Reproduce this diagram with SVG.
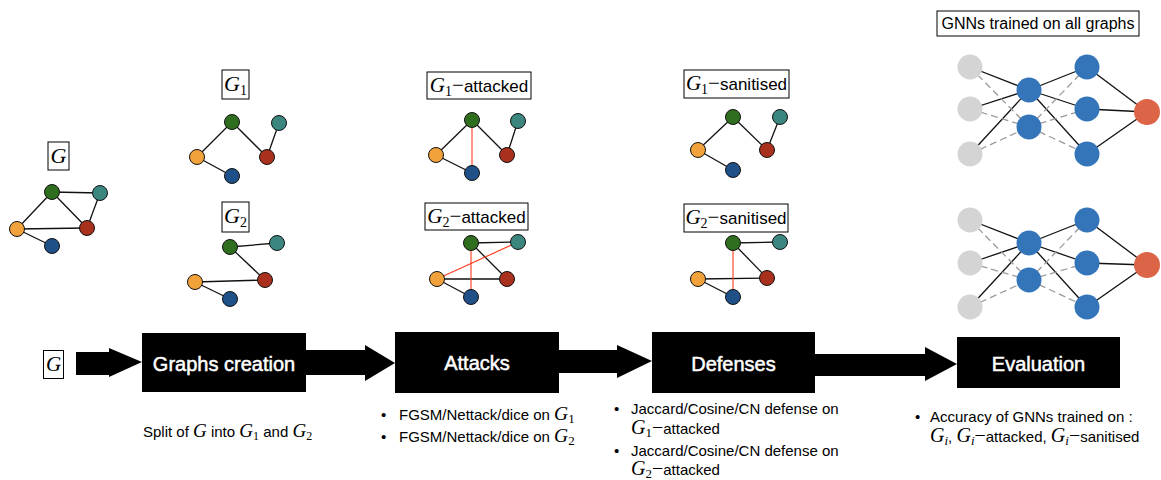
<svg xmlns="http://www.w3.org/2000/svg" width="1161" height="480" viewBox="0 0 1161 480">
<style>
.n{stroke:#111;stroke-width:1}
.g{fill:#2f6e1f}.t{fill:#3b8780}.o{fill:#f2a23a}.r{fill:#a8301d}.b{fill:#1f5188}
.e{stroke:#111;stroke-width:1.3;fill:none}
.ea{stroke:#ff3a1a;stroke-width:1.1;fill:none}
.lb{fill:#fff;stroke:#000;stroke-width:1}
.m{font-family:"Liberation Serif",serif;font-style:italic}
.u{font-family:"Liberation Serif",serif;font-style:normal}
.s{font-family:"Liberation Sans",Arial,sans-serif}
.gn{fill:#d4d4d4}.bn{fill:#3375b8}.on{fill:#dc6548}
.ns{stroke:#111;stroke-width:1.3}
.nd{stroke:#9a9a9a;stroke-width:1.3;stroke-dasharray:7 4}
.box{fill:#000}
.bt{fill:#fff;stroke:#fff;stroke-width:0.5;font-family:"Liberation Sans",Arial,sans-serif;font-size:20px;text-anchor:middle}
.tx{font-family:"Liberation Sans",Arial,sans-serif;font-size:15px;fill:#000}
</style>

<!-- Graph G -->
<g id="graph-G">
<rect class="lb" x="48" y="142" width="21" height="28"/>
<text x="58.5" y="163" class="m" font-size="22" text-anchor="middle">G</text>
<line class="e" x1="52" y1="192" x2="100" y2="193"/>
<line class="e" x1="52" y1="192" x2="17" y2="229"/>
<line class="e" x1="52" y1="192" x2="87" y2="228"/>
<line class="e" x1="100" y1="193" x2="87" y2="228"/>
<line class="e" x1="17" y1="229" x2="87" y2="228"/>
<line class="e" x1="17" y1="229" x2="52" y2="246"/>
<circle class="n g" cx="52" cy="192" r="7.5"/>
<circle class="n t" cx="100" cy="193" r="7.5"/>
<circle class="n o" cx="17" cy="229" r="7.5"/>
<circle class="n r" cx="87" cy="228" r="7.5"/>
<circle class="n b" cx="52" cy="246" r="7.5"/>
</g>

<!-- G1 -->
<g id="graph-G1">
<rect class="lb" x="222" y="70" width="27" height="29"/>
<text x="235.5" y="91" text-anchor="middle"><tspan class="m" font-size="22">G</tspan><tspan class="u" font-size="14" dy="4">1</tspan></text>
<line class="e" x1="232" y1="122" x2="197" y2="157"/>
<line class="e" x1="232" y1="122" x2="267" y2="157"/>
<line class="e" x1="279" y1="123" x2="267" y2="157"/>
<line class="e" x1="197" y1="157" x2="232" y2="176"/>
<circle class="n g" cx="232" cy="122" r="7.5"/>
<circle class="n t" cx="279" cy="123" r="7.5"/>
<circle class="n o" cx="197" cy="157" r="7.5"/>
<circle class="n r" cx="267" cy="157" r="7.5"/>
<circle class="n b" cx="232" cy="176" r="7.5"/>
</g>

<!-- G2 -->
<g id="graph-G2">
<rect class="lb" x="222" y="202" width="27" height="30"/>
<text x="235.5" y="223" text-anchor="middle"><tspan class="m" font-size="22">G</tspan><tspan class="u" font-size="14" dy="4">2</tspan></text>
<line class="e" x1="230" y1="247" x2="277" y2="243"/>
<line class="e" x1="230" y1="247" x2="265" y2="280"/>
<line class="e" x1="195" y1="282" x2="265" y2="280"/>
<line class="e" x1="195" y1="282" x2="230" y2="299"/>
<circle class="n g" cx="230" cy="247" r="7.5"/>
<circle class="n t" cx="277" cy="243" r="7.5"/>
<circle class="n o" cx="195" cy="282" r="7.5"/>
<circle class="n r" cx="265" cy="280" r="7.5"/>
<circle class="n b" cx="230" cy="299" r="7.5"/>
</g>

<!-- G1 attacked -->
<g id="graph-G1-attacked">
<rect class="lb" x="427" y="72" width="104" height="27"/>
<text x="479" y="92" text-anchor="middle"><tspan class="m" font-size="21">G</tspan><tspan class="u" font-size="14" dy="4">1</tspan><tspan class="u" font-size="21" dy="-4">−</tspan><tspan class="s" font-size="17">attacked</tspan></text>
<line class="e" x1="472" y1="120" x2="436" y2="155"/>
<line class="e" x1="472" y1="120" x2="507" y2="155"/>
<line class="e" x1="518" y1="121" x2="507" y2="155"/>
<line class="e" x1="436" y1="155" x2="472" y2="173"/>
<line class="ea" x1="472" y1="120" x2="472" y2="173"/>
<circle class="n g" cx="472" cy="120" r="7.5"/>
<circle class="n t" cx="518" cy="121" r="7.5"/>
<circle class="n o" cx="436" cy="155" r="7.5"/>
<circle class="n r" cx="507" cy="155" r="7.5"/>
<circle class="n b" cx="472" cy="173" r="7.5"/>
</g>

<!-- G2 attacked -->
<g id="graph-G2-attacked">
<rect class="lb" x="425" y="203" width="103" height="27"/>
<text x="476.5" y="223" text-anchor="middle"><tspan class="m" font-size="21">G</tspan><tspan class="u" font-size="14" dy="4">2</tspan><tspan class="u" font-size="21" dy="-4">−</tspan><tspan class="s" font-size="17">attacked</tspan></text>
<line class="e" x1="471" y1="243" x2="518" y2="242"/>
<line class="e" x1="471" y1="243" x2="507" y2="279"/>
<line class="e" x1="437" y1="279" x2="507" y2="279"/>
<line class="e" x1="437" y1="279" x2="471" y2="297"/>
<line class="ea" x1="471" y1="243" x2="471" y2="297"/>
<line class="ea" x1="437" y1="279" x2="518" y2="242"/>
<circle class="n g" cx="471" cy="243" r="7.5"/>
<circle class="n t" cx="518" cy="242" r="7.5"/>
<circle class="n o" cx="437" cy="279" r="7.5"/>
<circle class="n r" cx="507" cy="279" r="7.5"/>
<circle class="n b" cx="471" cy="297" r="7.5"/>
</g>

<!-- G1 sanitised -->
<g id="graph-G1-sanitised">
<rect class="lb" x="684" y="70" width="105" height="28"/>
<text x="736.5" y="90" text-anchor="middle"><tspan class="m" font-size="21">G</tspan><tspan class="u" font-size="14" dy="4">1</tspan><tspan class="u" font-size="21" dy="-4">−</tspan><tspan class="s" font-size="17">sanitised</tspan></text>
<line class="e" x1="733" y1="117" x2="698" y2="150"/>
<line class="e" x1="733" y1="117" x2="767" y2="150"/>
<line class="e" x1="780" y1="117" x2="767" y2="150"/>
<line class="e" x1="698" y1="150" x2="733" y2="170"/>
<circle class="n g" cx="733" cy="117" r="7.5"/>
<circle class="n t" cx="780" cy="117" r="7.5"/>
<circle class="n o" cx="698" cy="150" r="7.5"/>
<circle class="n r" cx="767" cy="150" r="7.5"/>
<circle class="n b" cx="733" cy="170" r="7.5"/>
</g>

<!-- G2 sanitised -->
<g id="graph-G2-sanitised">
<rect class="lb" x="684" y="204" width="104" height="28"/>
<text x="736" y="224" text-anchor="middle"><tspan class="m" font-size="21">G</tspan><tspan class="u" font-size="14" dy="4">2</tspan><tspan class="u" font-size="21" dy="-4">−</tspan><tspan class="s" font-size="17">sanitised</tspan></text>
<line class="e" x1="733" y1="243" x2="780" y2="242"/>
<line class="e" x1="733" y1="243" x2="767" y2="278"/>
<line class="e" x1="698" y1="279" x2="767" y2="278"/>
<line class="e" x1="698" y1="279" x2="733" y2="297"/>
<line class="ea" x1="733" y1="243" x2="733" y2="297"/>
<circle class="n g" cx="733" cy="243" r="7.5"/>
<circle class="n t" cx="780" cy="242" r="7.5"/>
<circle class="n o" cx="698" cy="279" r="7.5"/>
<circle class="n r" cx="767" cy="278" r="7.5"/>
<circle class="n b" cx="733" cy="297" r="7.5"/>
</g>

<!-- GNN label -->
<g id="gnn-label">
<rect class="lb" x="937" y="11" width="202" height="25"/>
<text x="1038" y="29" class="s" font-size="16" text-anchor="middle">GNNs trained on all graphs</text>
</g>

<!-- GNN top -->
<g id="gnn-top">
<line class="ns" x1="970" y1="67" x2="1029" y2="90"/>
<line class="ns" x1="970" y1="109" x2="1029" y2="90"/>
<line class="ns" x1="970" y1="154" x2="1029" y2="90"/>
<line class="nd" x1="970" y1="67" x2="1029" y2="127"/>
<line class="nd" x1="970" y1="109" x2="1029" y2="127"/>
<line class="nd" x1="970" y1="154" x2="1029" y2="127"/>
<line class="ns" x1="1029" y1="90" x2="1087" y2="67"/>
<line class="ns" x1="1029" y1="90" x2="1087" y2="109"/>
<line class="ns" x1="1029" y1="90" x2="1087" y2="154"/>
<line class="nd" x1="1029" y1="127" x2="1087" y2="67"/>
<line class="nd" x1="1029" y1="127" x2="1087" y2="109"/>
<line class="nd" x1="1029" y1="127" x2="1087" y2="154"/>
<line class="ns" x1="1087" y1="67" x2="1147" y2="112"/>
<line class="ns" x1="1087" y1="109" x2="1147" y2="112"/>
<line class="ns" x1="1087" y1="154" x2="1147" y2="112"/>
<circle class="gn" cx="970" cy="67" r="12.5"/>
<circle class="gn" cx="970" cy="109" r="12.5"/>
<circle class="gn" cx="970" cy="154" r="12.5"/>
<circle class="bn" cx="1029" cy="90" r="12.5"/>
<circle class="bn" cx="1029" cy="127" r="12.5"/>
<circle class="bn" cx="1087" cy="67" r="12.5"/>
<circle class="bn" cx="1087" cy="109" r="12.5"/>
<circle class="bn" cx="1087" cy="154" r="12.5"/>
<circle class="on" cx="1147" cy="112" r="13"/>
</g>

<!-- GNN bottom -->
<g id="gnn-bottom">
<line class="ns" x1="970" y1="220" x2="1029" y2="243"/>
<line class="ns" x1="970" y1="263" x2="1029" y2="243"/>
<line class="ns" x1="970" y1="307" x2="1029" y2="243"/>
<line class="nd" x1="970" y1="220" x2="1029" y2="280"/>
<line class="nd" x1="970" y1="263" x2="1029" y2="280"/>
<line class="nd" x1="970" y1="307" x2="1029" y2="280"/>
<line class="ns" x1="1029" y1="243" x2="1087" y2="220"/>
<line class="ns" x1="1029" y1="243" x2="1087" y2="263"/>
<line class="ns" x1="1029" y1="243" x2="1087" y2="307"/>
<line class="nd" x1="1029" y1="280" x2="1087" y2="220"/>
<line class="nd" x1="1029" y1="280" x2="1087" y2="263"/>
<line class="nd" x1="1029" y1="280" x2="1087" y2="307"/>
<line class="ns" x1="1087" y1="220" x2="1147" y2="265"/>
<line class="ns" x1="1087" y1="263" x2="1147" y2="265"/>
<line class="ns" x1="1087" y1="307" x2="1147" y2="265"/>
<circle class="gn" cx="970" cy="220" r="12.5"/>
<circle class="gn" cx="970" cy="263" r="12.5"/>
<circle class="gn" cx="970" cy="307" r="12.5"/>
<circle class="bn" cx="1029" cy="243" r="12.5"/>
<circle class="bn" cx="1029" cy="280" r="12.5"/>
<circle class="bn" cx="1087" cy="220" r="12.5"/>
<circle class="bn" cx="1087" cy="263" r="12.5"/>
<circle class="bn" cx="1087" cy="307" r="12.5"/>
<circle class="on" cx="1147" cy="265" r="13"/>
</g>

<!-- pipeline connectors -->
<g id="connectors" fill="#000">
<polygon points="76,352 109,352 109,348 142,362 109,377 109,375 76,375"/>
<polygon points="306,350 365,350 365,345 395,363 365,381 365,375 306,375"/>
<polygon points="559,350 617,350 617,345 652,361 617,378 617,373 559,373"/>
<polygon points="815,354 925,354 925,347 957,364 925,381 925,376 815,376"/>
</g>

<!-- pipeline nodes -->
<g id="input-G">
<rect class="lb" x="43.5" y="350.5" width="20" height="28"/>
<text x="53.5" y="371" class="m" font-size="21" text-anchor="middle">G</text>
</g>
<g id="graphs-creation">
<rect class="box" x="142" y="333" width="164" height="59"/>
<text class="bt" x="224" y="371">Graphs creation</text>
</g>
<g id="attacks">
<rect class="box" x="395" y="332" width="164" height="61"/>
<text class="bt" x="477" y="370">Attacks</text>
</g>
<g id="defenses">
<rect class="box" x="652" y="332" width="163" height="61"/>
<text class="bt" x="733.5" y="371">Defenses</text>
</g>
<g id="evaluation">
<rect class="box" x="957" y="337" width="163" height="51"/>
<text class="bt" x="1038.5" y="371">Evaluation</text>
</g>

<!-- descriptions -->
<g id="desc-creation">
<text class="tx" x="143" y="437">Split of <tspan class="m" font-size="19">G</tspan> into <tspan class="m" font-size="19">G</tspan><tspan class="u" font-size="12" dy="3">1</tspan><tspan dy="-3"> and </tspan><tspan class="m" font-size="19">G</tspan><tspan class="u" font-size="12" dy="3">2</tspan></text>
</g>
<g id="desc-attacks">
<text class="tx" x="381" y="420">•</text>
<text class="tx" x="399" y="420">FGSM/Nettack/dice on <tspan class="m" font-size="19.5">G</tspan><tspan class="u" font-size="13" dy="2.5">1</tspan></text>
<text class="tx" x="381" y="442">•</text>
<text class="tx" x="399" y="442">FGSM/Nettack/dice on <tspan class="m" font-size="19.5">G</tspan><tspan class="u" font-size="13" dy="2.5">2</tspan></text>
</g>
<g id="desc-defenses">
<text class="tx" x="614" y="414">•</text>
<text class="tx" x="631" y="414">Jaccard/Cosine/CN defense on</text>
<text class="tx" x="631" y="434"><tspan class="m" font-size="20">G</tspan><tspan class="u" font-size="13" dy="3">1</tspan><tspan class="u" font-size="20" dy="-3">−</tspan>attacked</text>
<text class="tx" x="614" y="456">•</text>
<text class="tx" x="631" y="456">Jaccard/Cosine/CN defense on</text>
<text class="tx" x="631" y="475"><tspan class="m" font-size="20">G</tspan><tspan class="u" font-size="13" dy="3">2</tspan><tspan class="u" font-size="20" dy="-3">−</tspan>attacked</text>
</g>
<g id="desc-evaluation">
<text class="tx" x="915" y="422">•</text>
<text class="tx" x="930" y="422">Accuracy of GNNs trained on :</text>
<text class="tx" x="930" y="442"><tspan class="m" font-size="20">G</tspan><tspan class="m" font-size="13" dy="3">i</tspan><tspan dy="-3">, </tspan><tspan class="m" font-size="20">G</tspan><tspan class="m" font-size="13" dy="3">i</tspan><tspan class="u" font-size="20" dy="-3">−</tspan>attacked, <tspan class="m" font-size="20">G</tspan><tspan class="m" font-size="13" dy="3">i</tspan><tspan class="u" font-size="20" dy="-3">−</tspan>sanitised</text>
</g>
</svg>
